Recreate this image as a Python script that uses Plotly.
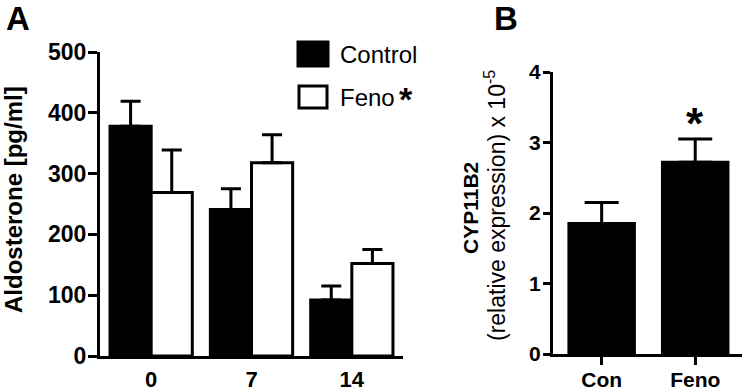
import plotly.graph_objects as go

# ---- Data ----
days = ["0", "7", "14"]
control_mean = [378, 241, 92]
control_err = [41, 34, 23]
feno_mean = [269, 318, 152]
feno_err = [70, 46, 23]

groups_b = ["Con", "Feno"]
cyp_mean = [1.85, 2.72]
cyp_err = [0.30, 0.33]

FONT = "Liberation Sans, Arial, sans-serif"
W, H = 742, 391

def px(x):
    return x / W

def py(y):
    return (H - y) / H

xa = list(range(len(days)))
xb = list(range(len(groups_b)))

fig = go.Figure()
fig.add_trace(go.Bar(
    x=xa, y=control_mean, name="Control", xaxis="x", yaxis="y",
    marker=dict(color="black", line=dict(color="black", width=3)),
    error_y=dict(type="data", array=control_err, arrayminus=[0]*3, symmetric=False,
                 color="black", thickness=3, width=10),
    offsetgroup="c", showlegend=False))
fig.add_trace(go.Bar(
    x=xa, y=feno_mean, name="Feno", xaxis="x", yaxis="y",
    marker=dict(color="white", line=dict(color="black", width=3)),
    error_y=dict(type="data", array=feno_err, arrayminus=[0]*3, symmetric=False,
                 color="black", thickness=3, width=10),
    offsetgroup="f", showlegend=False))
fig.add_trace(go.Bar(
    x=xb, y=cyp_mean, xaxis="x2", yaxis="y2", width=0.7,
    marker=dict(color="black", line=dict(color="black", width=3)),
    error_y=dict(type="data", array=cyp_err, arrayminus=[0]*2, symmetric=False,
                 color="black", thickness=3, width=17),
    showlegend=False))

tickfont = dict(family=FONT, size=23, color="black", weight="bold")
common = dict(showline=True, linecolor="black", linewidth=3, showgrid=False,
              zeroline=False, ticks="outside", tickcolor="black", tickwidth=3,
              automargin=False)

fig.update_layout(
    template="none",
    width=W, height=H, margin=dict(l=0, r=0, t=0, b=0, autoexpand=False),
    paper_bgcolor="white", plot_bgcolor="white",
    barmode="group", bargap=0.18, bargroupgap=0,
    xaxis=dict(domain=[px(100), px(403)], range=[-0.51, 2.51], tickvals=xa, ticktext=days,
               anchor="y", showline=True, linecolor="black", linewidth=3, showgrid=False,
               zeroline=False, ticks="", tickfont=dict(tickfont, size=22), ticklabelstandoff=2,
               automargin=False),
    yaxis=dict(domain=[py(356), py(52)], range=[0, 500], tickvals=[0, 100, 200, 300, 400, 500],
               anchor="x", ticklen=9, tickfont=tickfont, ticklabelstandoff=-3, **common),
    xaxis2=dict(domain=[px(553), 1.0], range=[-0.52, 1.5], tickvals=xb, ticktext=groups_b,
                anchor="y2", ticklen=8, tickfont=dict(tickfont, size=21), ticklabelstandoff=-3,
                **common),
    yaxis2=dict(domain=[py(354), py(72)], range=[0, 4], tickvals=[0, 1, 2, 3, 4],
                anchor="x2", ticklen=7, tickfont=dict(tickfont, size=21), ticklabelstandoff=-2,
                **common),
)

ann = []
def add(text, x, y, size, bold=False, xanchor="center", yanchor="middle", angle=0,
        xref="paper", yref="paper"):
    f = dict(family=FONT, size=size, color="black")
    if bold:
        f["weight"] = "bold"
    ann.append(dict(text=text, x=x, y=y, xref=xref, yref=yref, xanchor=xanchor,
                    yanchor=yanchor, textangle=angle, showarrow=False, font=f))

add("A", px(4), py(19), 33, bold=True, xanchor="left")
add("B", px(492), py(19), 33, bold=True, xanchor="left")
add("Aldosterone [pg/ml]", px(14), py(200), 24, bold=True, angle=-90)
add("CYP11B2", px(470), py(208), 21, bold=True, angle=-90)
add("(relative expression) x 10<sup>-5</sup>", px(495), py(206), 23, angle=-90)
# significance asterisk panel B
add("*", 1, 2.9, 44, bold=True, yanchor="bottom", xref="x2", yref="y2")
# legend texts
add("Control", px(338), py(54), 24, xanchor="left")
add("Feno", px(338), py(97), 24, xanchor="left")
add("*", px(397), py(99), 34, bold=True, xanchor="left")
fig.update_layout(annotations=ann)

fig.add_shape(type="rect", xref="paper", yref="paper", x0=px(298), x1=px(328),
              y0=py(66), y1=py(42), fillcolor="black", line=dict(color="black", width=3))
fig.add_shape(type="rect", xref="paper", yref="paper", x0=px(299), x1=px(327),
              y0=py(108), y1=py(86), fillcolor="white", line=dict(color="black", width=3))

fig.write_html("out.html", config={"displayModeBar": False},
               post_script="document.body.style.margin='0px';")
